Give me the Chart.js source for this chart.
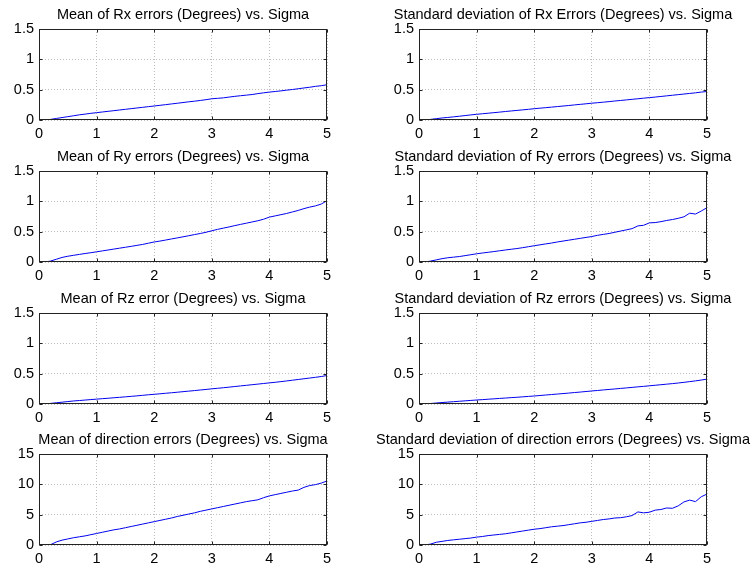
<!DOCTYPE html>
<html>
<head>
<meta charset="utf-8">
<script src="https://cdn.jsdelivr.net/npm/chart.js@4.4.1/dist/chart.umd.min.js"></script>
<style>
  html, body { margin:0; padding:0; background:#fff; }
  #figura { position:relative; width:753px; height:568px; overflow:hidden; background:#fff; }
  #figura canvas { position:absolute; }
</style>
</head>
<body>
<div id="figura"></div>
<script>
// eje x: sigma
var sigma = [0,0.1,0.2,0.3,0.4,0.5,0.6,0.7,0.8,0.9,1,
             1.1,1.2,1.3,1.4,1.5,1.6,1.7,1.8,1.9,2,
             2.1,2.2,2.3,2.4,2.5,2.6,2.7,2.8,2.9,3,
             3.1,3.2,3.3,3.4,3.5,3.6,3.7,3.8,3.9,4,
             4.1,4.2,4.3,4.4,4.5,4.6,4.7,4.8,4.9,5];

var meanRx = [0,0,0.01,0.025,0.04,0.055,0.07,0.085,0.097,0.11,0.121,
              0.132,0.143,0.154,0.165,0.176,0.187,0.198,0.209,0.22,0.231,
              0.242,0.253,0.265,0.276,0.288,0.3,0.31,0.322,0.335,0.35,
              0.357,0.365,0.378,0.39,0.4,0.41,0.42,0.435,0.448,0.46,
              0.47,0.48,0.492,0.503,0.515,0.528,0.54,0.555,0.565,0.582];

var stdRx = [0,0,0.01,0.022,0.033,0.042,0.052,0.062,0.073,0.084,0.094,
             0.103,0.112,0.121,0.13,0.14,0.149,0.158,0.167,0.176,0.186,
             0.195,0.203,0.212,0.221,0.23,0.239,0.249,0.258,0.267,0.277,
             0.285,0.294,0.303,0.313,0.322,0.331,0.341,0.35,0.36,0.369,
             0.378,0.388,0.398,0.408,0.418,0.428,0.438,0.448,0.46,0.47];

var meanRy = [0,0,0.015,0.045,0.075,0.095,0.11,0.125,0.14,0.153,0.168,
              0.183,0.198,0.213,0.228,0.243,0.258,0.274,0.29,0.31,0.33,
              0.345,0.362,0.38,0.397,0.415,0.433,0.452,0.47,0.49,0.515,
              0.538,0.558,0.578,0.6,0.62,0.64,0.66,0.68,0.705,0.74,
              0.76,0.78,0.8,0.825,0.85,0.88,0.905,0.925,0.955,1.01];

var stdRy = [0,0,0.015,0.035,0.055,0.07,0.08,0.09,0.105,0.12,0.135,
             0.148,0.16,0.172,0.185,0.198,0.21,0.222,0.236,0.252,0.268,
             0.283,0.298,0.312,0.33,0.345,0.36,0.375,0.39,0.405,0.42,
             0.44,0.455,0.47,0.49,0.51,0.53,0.55,0.595,0.605,0.645,
             0.65,0.665,0.685,0.7,0.72,0.745,0.805,0.79,0.84,0.895];

var meanRz = [0,0,0.01,0.02,0.03,0.04,0.05,0.057,0.065,0.073,0.08,
              0.088,0.095,0.103,0.11,0.118,0.126,0.134,0.143,0.152,0.16,
              0.168,0.177,0.185,0.194,0.203,0.212,0.221,0.231,0.24,0.25,
              0.259,0.268,0.278,0.288,0.298,0.308,0.318,0.328,0.338,0.348,
              0.358,0.369,0.38,0.392,0.404,0.416,0.428,0.44,0.453,0.47];

var stdRz = [0,0,0.008,0.016,0.024,0.031,0.038,0.045,0.052,0.059,0.066,
             0.072,0.079,0.085,0.092,0.098,0.105,0.111,0.118,0.125,0.132,
             0.14,0.148,0.156,0.164,0.172,0.18,0.189,0.197,0.206,0.215,
             0.223,0.232,0.24,0.248,0.257,0.265,0.274,0.283,0.291,0.3,
             0.309,0.318,0.327,0.336,0.346,0.357,0.369,0.381,0.395,0.41];

var meanDir = [0,0,0.05,0.5,0.8,1.0,1.2,1.35,1.5,1.7,1.9,
               2.1,2.3,2.5,2.65,2.85,3.05,3.25,3.45,3.65,3.85,
               4.05,4.25,4.45,4.7,4.9,5.1,5.3,5.55,5.75,5.95,
               6.15,6.35,6.55,6.75,6.95,7.15,7.3,7.45,7.8,8.1,
               8.3,8.5,8.7,8.9,9.05,9.5,9.8,9.95,10.2,10.55];

var stdDir = [0,0,0.15,0.45,0.6,0.75,0.85,0.95,1.05,1.15,1.3,
              1.4,1.55,1.65,1.75,1.85,2.0,2.15,2.3,2.45,2.6,
              2.7,2.85,3.0,3.1,3.2,3.35,3.5,3.65,3.75,3.9,
              4.05,4.2,4.3,4.45,4.5,4.65,4.85,5.45,5.3,5.4,
              5.75,5.85,6.1,6.05,6.45,7.1,7.4,7.15,7.95,8.4];

var titulos = ["Mean of Rx errors (Degrees) vs. Sigma",
               "Standard deviation of Rx Errors (Degrees) vs. Sigma",
               "Mean of Ry errors (Degrees) vs. Sigma",
               "Standard deviation of Ry errors (Degrees) vs. Sigma",
               "Mean of Rz error (Degrees) vs. Sigma",
               "Standard deviation of Rz errors (Degrees) vs. Sigma",
               "Mean of direction errors (Degrees) vs. Sigma",
               "Standard deviation of direction errors (Degrees) vs. Sigma"];

var series = [meanRx, stdRx, meanRy, stdRy, meanRz, stdRz, meanDir, stdDir];
var yMax = [1.5, 1.5, 1.5, 1.5, 1.5, 1.5, 15, 15];
var yPaso = [0.5, 0.5, 0.5, 0.5, 0.5, 0.5, 5, 5];

var fuente = "'Liberation Sans', Arial, Helvetica, sans-serif";

// posiciones de los ejes (estilo subplot 4x2)
var colIzq = [39, 419];
var filaTop = [29, 171, 313, 454];
var anchoEje = 288;
var altoEje = 91;
var margen = 45;

// caja, ticks hacia dentro y titulo al estilo matlab
var marco = {
  id: 'marco',
  afterDraw: function(chart, args, opts) {
    var ctx = chart.ctx, a = chart.chartArea;
    var sx = chart.scales.x, sy = chart.scales.y;
    var l = Math.round(a.left) + 0.5, r = Math.round(a.right) - 0.5;
    var t = Math.round(a.top) + 0.5, b = Math.round(a.bottom) - 0.5;
    ctx.save();
    ctx.strokeStyle = '#222';
    ctx.lineWidth = 1;
    ctx.strokeRect(l, t, r - l, b - t);
    ctx.beginPath();
    sx.ticks.forEach(function(tk){
      var px = Math.round(sx.getPixelForValue(tk.value)) + 0.5;
      ctx.moveTo(px, b); ctx.lineTo(px, b - 3);
      ctx.moveTo(px, t); ctx.lineTo(px, t + 3);
    });
    sy.ticks.forEach(function(tk){
      var py = Math.round(sy.getPixelForValue(tk.value)) + 0.5;
      ctx.moveTo(l, py); ctx.lineTo(l + 3, py);
      ctx.moveTo(r, py); ctx.lineTo(r - 3, py);
    });
    ctx.stroke();
    ctx.fillStyle = '#000';
    ctx.font = '14.5px ' + fuente;
    ctx.textAlign = 'center';
    ctx.textBaseline = 'alphabetic';
    ctx.fillText(opts.titulo, (a.left + a.right) / 2, a.top - 10);
    ctx.restore();
  }
};

// etiquetas sin ceros de relleno (1 y no 1.0)
function etiqueta(v){
  return String(Math.round(v * 100) / 100);
}

function crearSubplot(i){
  var fila = Math.floor(i / 2), col = i % 2;
  var cv = document.createElement('canvas');
  var w = anchoEje + 2 * margen, h = altoEje + 30 + 50;
  cv.width = w; cv.height = h;
  cv.style.left = (colIzq[col] - margen) + 'px';
  cv.style.top = (filaTop[fila] - 30) + 'px';
  cv.style.width = w + 'px'; cv.style.height = h + 'px';
  document.getElementById('figura').appendChild(cv);

  var datos = sigma.map(function(s, k){ return {x: s, y: series[i][k]}; });

  new Chart(cv, {
    type: 'line',
    data: {
      datasets: [{
        data: datos,
        borderColor: '#0000f0',
        borderWidth: 1,
        pointRadius: 0,
        fill: false,
        tension: 0
      }]
    },
    options: {
      responsive: false,
      animation: false,
      devicePixelRatio: 1,
      events: [],
      layout: { padding: { top: 30, right: margen, bottom: 0, left: 0 } },
      plugins: {
        legend: { display: false },
        tooltip: { enabled: false },
        title: { display: false },
        marco: { titulo: titulos[i] }
      },
      scales: {
        x: {
          type: 'linear', min: 0, max: 5,
          afterFit: function(s){ s.height = 50; },
          ticks: { stepSize: 1, padding: 5, color: '#000', font: { family: fuente, size: 14.5 }, callback: etiqueta },
          grid: { color: '#bdbdbd', lineWidth: 1, drawTicks: false },
          border: { display: false, dash: [1, 2] }
        },
        y: {
          min: 0, max: yMax[i],
          afterFit: function(s){ s.width = margen; },
          ticks: { stepSize: yPaso[i], padding: 5, color: '#000', font: { family: fuente, size: 14.5 }, callback: etiqueta },
          grid: { color: '#bdbdbd', lineWidth: 1, drawTicks: false },
          border: { display: false, dash: [1, 2] }
        }
      }
    },
    plugins: [marco]
  });
}

for (var i = 0; i < 8; i++) {
  crearSubplot(i);
}
</script>
</body>
</html>
